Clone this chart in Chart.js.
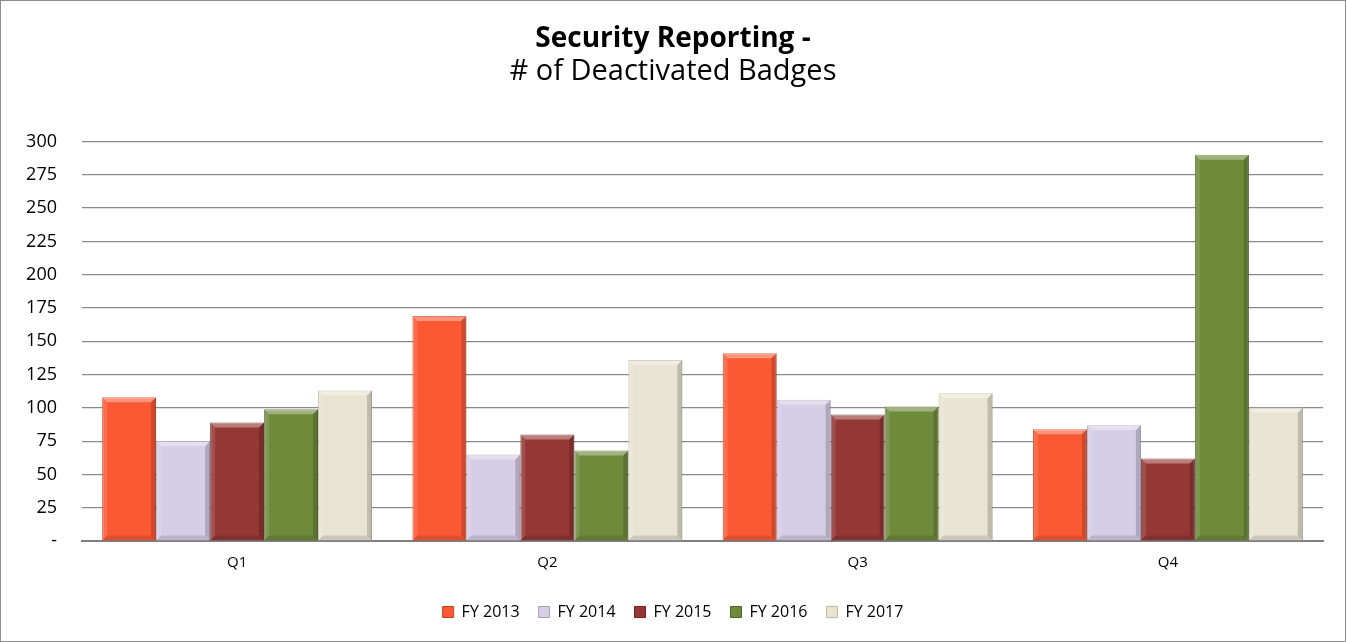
<!DOCTYPE html>
<html>
<head>
<meta charset="utf-8">
<script src="https://cdn.jsdelivr.net/npm/chart.js@4"></script>
<style>
  html, body { margin: 0; padding: 0; background: #fff; }
  #wrap { position: relative; width: 1344px; height: 640px; border: 1px solid #8c8c8c; }
</style>
</head>
<body>
<div id="wrap"><canvas id="badges-chart"></canvas></div>
<script>
// ── Data ─────────────────────────────
var quarters = ["Q1", "Q2", "Q3", "Q4"];
var fy2013 = [108, 169, 141, 84];
var fy2014 = [75, 65, 106, 87];
var fy2015 = [89, 80, 95, 62];
var fy2016 = [99, 68, 101, 290];
var fy2017 = [113, 136, 111, 100];
var seriesNames = ["FY 2013", "FY 2014", "FY 2015", "FY 2016", "FY 2017"];
var yTicks = [0, 25, 50, 75, 100, 125, 150, 175, 200, 225, 250, 275, 300];

(function () {
  "use strict";

  var fills = ["#fb5934", "#d6cde6", "#943735", "#6e8a3b", "#e8e4d1"];
  var edges = ["#c8401f", "#a9a0bd", "#6b2523", "#4e6528", "#bdb8a0"];
  var font = "'Open Sans', 'Liberation Sans', sans-serif";

  var values = [fy2013, fy2014, fy2015, fy2016, fy2017];

  // soft bevel on each bar, using the bar geometry from the chart
  var bevel = {
    id: "bevel",
    afterDatasetsDraw: function (chart) {
      var ctx = chart.ctx;
      var b = 5;
      chart.data.datasets.forEach(function (ds, i) {
        chart.getDatasetMeta(i).data.forEach(function (bar) {
          var l = bar.x - bar.width / 2, r = bar.x + bar.width / 2;
          var t = bar.y, bt = bar.base;
          ctx.save();
          // top face highlight
          ctx.fillStyle = "rgba(255,255,255,0.35)";
          ctx.beginPath();
          ctx.moveTo(l, t); ctx.lineTo(r, t); ctx.lineTo(r - b, t + b); ctx.lineTo(l + b, t + b);
          ctx.closePath(); ctx.fill();
          // left highlight
          ctx.fillStyle = "rgba(255,255,255,0.12)";
          ctx.beginPath();
          ctx.moveTo(l, t); ctx.lineTo(l + b, t + b); ctx.lineTo(l + b, bt - b); ctx.lineTo(l, bt);
          ctx.closePath(); ctx.fill();
          // right shade
          ctx.fillStyle = "rgba(0,0,0,0.18)";
          ctx.beginPath();
          ctx.moveTo(r, t); ctx.lineTo(r - b, t + b); ctx.lineTo(r - b, bt - b); ctx.lineTo(r, bt);
          ctx.closePath(); ctx.fill();
          // bottom shade
          ctx.fillStyle = "rgba(0,0,0,0.12)";
          ctx.beginPath();
          ctx.moveTo(l, bt); ctx.lineTo(l + b, bt - b); ctx.lineTo(r - b, bt - b); ctx.lineTo(r, bt);
          ctx.closePath(); ctx.fill();
          ctx.restore();
        });
      });
    },
  };

  new Chart(document.getElementById("badges-chart"), {
    type: "bar",
    data: {
      labels: quarters,
      datasets: values.map(function (v, i) {
        return {
          label: seriesNames[i],
          data: v,
          backgroundColor: fills[i],
          borderColor: edges[i],
          borderWidth: 1,
          categoryPercentage: 0.87,
          barPercentage: 1.0,
        };
      }),
    },
    plugins: [bevel],
    options: {
      responsive: true,
      maintainAspectRatio: false,
      animation: false,
      layout: { padding: { left: 22, right: 22, top: 6, bottom: 11 } },
      plugins: {
        title: {
          display: true,
          text: "Security Reporting -",
          font: { family: font, size: 28, weight: "bold" },
          color: "#000",
          padding: { top: 15, bottom: 0 },
        },
        subtitle: {
          display: true,
          text: "# of Deactivated Badges",
          font: { family: font, size: 29, lineHeight: 1.1 },
          color: "#000",
          padding: { top: 0, bottom: 54 },
        },
        legend: {
          position: "bottom",
          labels: {
            boxWidth: 11,
            boxHeight: 11,
            font: { family: font, size: 16 },
            color: "#000",
            padding: 19,
          },
        },
        tooltip: { enabled: false },
      },
      scales: {
        y: {
          min: 0,
          max: 300,
          afterBuildTicks: function (axis) {
            axis.ticks = yTicks.map(function (t) { return { value: t }; });
          },
          afterFit: function (axis) { axis.width = 59; },
          ticks: {
            font: { family: font, size: 18 },
            color: "#000",
            padding: 25,
            callback: function (v) { return v === 0 ? "-" : v; },
          },
          grid: { color: "#8a8a8a", lineWidth: 1.2, drawTicks: false },
          border: { display: false },
        },
        x: {
          ticks: { font: { family: font, size: 15 }, color: "#000", padding: 13 },
          grid: { display: false, drawTicks: false },
          border: { display: true, color: "#7f7f7f", width: 2 },
        },
      },
    },
  });
})();
</script>
</body>
</html>
